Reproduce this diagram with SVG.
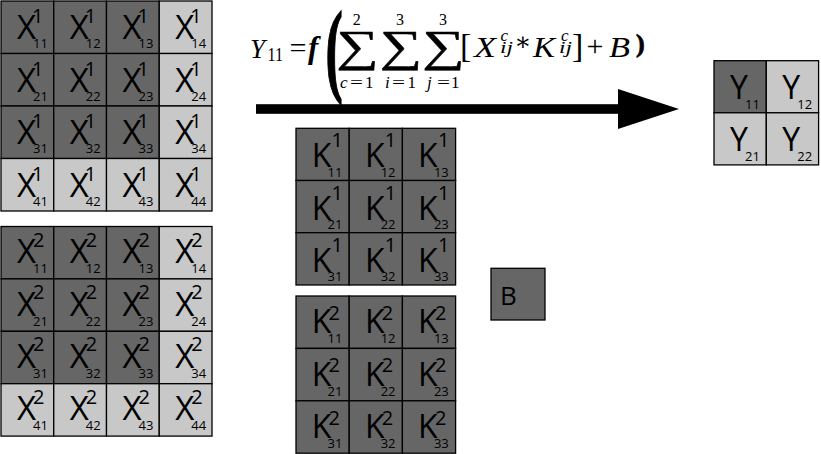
<svg xmlns="http://www.w3.org/2000/svg" width="821" height="454" viewBox="0 0 821 454">
<style>
.bg{fill:#ffffff}
.d{fill:#666666;stroke:#000000;stroke-width:1.3}
.l{fill:#c8c8c8;stroke:#000000;stroke-width:1.3}
.m{font-family:"Open Sans","DejaVu Sans",sans-serif;font-size:33px;fill:#000}
.mk{font-family:"Open Sans","DejaVu Sans",sans-serif;font-size:32px;fill:#000}
.sp{font-family:"Open Sans","DejaVu Sans",sans-serif;font-size:20px;fill:#000}
.sb{font-family:"Open Sans","DejaVu Sans",sans-serif;font-size:13px;fill:#000}
.f{font-family:"Liberation Serif","DejaVu Serif",serif;fill:#000}
.it{font-style:italic}
.scr{font-size:17px}
.lim{font-size:16px}
.sum{font-family:"Liberation Serif","DejaVu Serif",serif;font-size:44px;fill:#000;stroke:#000;stroke-width:0.5}
</style>
<rect class="bg" x="0" y="0" width="821" height="454"/>

<g id="X1">
<g id="X1_11"><rect class="d" x="1" y="1" width="52.75" height="52.5"/><text class="m" x="17" y="39.3">X</text><text class="sp" x="32" y="23">1</text><text class="sb" x="33" y="48.3">11</text></g>
<g id="X1_12"><rect class="d" x="53.75" y="1" width="52.75" height="52.5"/><text class="m" x="69.75" y="39.3">X</text><text class="sp" x="84.75" y="23">1</text><text class="sb" x="85.75" y="48.3">12</text></g>
<g id="X1_13"><rect class="d" x="106.5" y="1" width="52.75" height="52.5"/><text class="m" x="122.5" y="39.3">X</text><text class="sp" x="137.5" y="23">1</text><text class="sb" x="138.5" y="48.3">13</text></g>
<g id="X1_14"><rect class="l" x="159.25" y="1" width="52.75" height="52.5"/><text class="m" x="175.25" y="39.3">X</text><text class="sp" x="190.25" y="23">1</text><text class="sb" x="191.25" y="48.3">14</text></g>
<g id="X1_21"><rect class="d" x="1" y="53.5" width="52.75" height="52.5"/><text class="m" x="17" y="91.8">X</text><text class="sp" x="32" y="75.5">1</text><text class="sb" x="33" y="100.8">21</text></g>
<g id="X1_22"><rect class="d" x="53.75" y="53.5" width="52.75" height="52.5"/><text class="m" x="69.75" y="91.8">X</text><text class="sp" x="84.75" y="75.5">1</text><text class="sb" x="85.75" y="100.8">22</text></g>
<g id="X1_23"><rect class="d" x="106.5" y="53.5" width="52.75" height="52.5"/><text class="m" x="122.5" y="91.8">X</text><text class="sp" x="137.5" y="75.5">1</text><text class="sb" x="138.5" y="100.8">23</text></g>
<g id="X1_24"><rect class="l" x="159.25" y="53.5" width="52.75" height="52.5"/><text class="m" x="175.25" y="91.8">X</text><text class="sp" x="190.25" y="75.5">1</text><text class="sb" x="191.25" y="100.8">24</text></g>
<g id="X1_31"><rect class="d" x="1" y="106" width="52.75" height="52.5"/><text class="m" x="17" y="144.3">X</text><text class="sp" x="32" y="128">1</text><text class="sb" x="33" y="153.3">31</text></g>
<g id="X1_32"><rect class="d" x="53.75" y="106" width="52.75" height="52.5"/><text class="m" x="69.75" y="144.3">X</text><text class="sp" x="84.75" y="128">1</text><text class="sb" x="85.75" y="153.3">32</text></g>
<g id="X1_33"><rect class="d" x="106.5" y="106" width="52.75" height="52.5"/><text class="m" x="122.5" y="144.3">X</text><text class="sp" x="137.5" y="128">1</text><text class="sb" x="138.5" y="153.3">33</text></g>
<g id="X1_34"><rect class="l" x="159.25" y="106" width="52.75" height="52.5"/><text class="m" x="175.25" y="144.3">X</text><text class="sp" x="190.25" y="128">1</text><text class="sb" x="191.25" y="153.3">34</text></g>
<g id="X1_41"><rect class="l" x="1" y="158.5" width="52.75" height="52.5"/><text class="m" x="17" y="196.8">X</text><text class="sp" x="32" y="180.5">1</text><text class="sb" x="33" y="205.8">41</text></g>
<g id="X1_42"><rect class="l" x="53.75" y="158.5" width="52.75" height="52.5"/><text class="m" x="69.75" y="196.8">X</text><text class="sp" x="84.75" y="180.5">1</text><text class="sb" x="85.75" y="205.8">42</text></g>
<g id="X1_43"><rect class="l" x="106.5" y="158.5" width="52.75" height="52.5"/><text class="m" x="122.5" y="196.8">X</text><text class="sp" x="137.5" y="180.5">1</text><text class="sb" x="138.5" y="205.8">43</text></g>
<g id="X1_44"><rect class="l" x="159.25" y="158.5" width="52.75" height="52.5"/><text class="m" x="175.25" y="196.8">X</text><text class="sp" x="190.25" y="180.5">1</text><text class="sb" x="191.25" y="205.8">44</text></g>
</g>

<g id="X2">
<g id="X2_11"><rect class="d" x="1" y="226.5" width="52.75" height="52.4"/><text class="m" x="17" y="263.1">X</text><text class="sp" x="33" y="246.5">2</text><text class="sb" x="33" y="273.1">11</text></g>
<g id="X2_12"><rect class="d" x="53.75" y="226.5" width="52.75" height="52.4"/><text class="m" x="69.75" y="263.1">X</text><text class="sp" x="85.75" y="246.5">2</text><text class="sb" x="85.75" y="273.1">12</text></g>
<g id="X2_13"><rect class="d" x="106.5" y="226.5" width="52.75" height="52.4"/><text class="m" x="122.5" y="263.1">X</text><text class="sp" x="138.5" y="246.5">2</text><text class="sb" x="138.5" y="273.1">13</text></g>
<g id="X2_14"><rect class="l" x="159.25" y="226.5" width="52.75" height="52.4"/><text class="m" x="175.25" y="263.1">X</text><text class="sp" x="191.25" y="246.5">2</text><text class="sb" x="191.25" y="273.1">14</text></g>
<g id="X2_21"><rect class="d" x="1" y="278.9" width="52.75" height="52.4"/><text class="m" x="17" y="315.5">X</text><text class="sp" x="33" y="298.9">2</text><text class="sb" x="33" y="325.5">21</text></g>
<g id="X2_22"><rect class="d" x="53.75" y="278.9" width="52.75" height="52.4"/><text class="m" x="69.75" y="315.5">X</text><text class="sp" x="85.75" y="298.9">2</text><text class="sb" x="85.75" y="325.5">22</text></g>
<g id="X2_23"><rect class="d" x="106.5" y="278.9" width="52.75" height="52.4"/><text class="m" x="122.5" y="315.5">X</text><text class="sp" x="138.5" y="298.9">2</text><text class="sb" x="138.5" y="325.5">23</text></g>
<g id="X2_24"><rect class="l" x="159.25" y="278.9" width="52.75" height="52.4"/><text class="m" x="175.25" y="315.5">X</text><text class="sp" x="191.25" y="298.9">2</text><text class="sb" x="191.25" y="325.5">24</text></g>
<g id="X2_31"><rect class="d" x="1" y="331.3" width="52.75" height="52.4"/><text class="m" x="17" y="367.9">X</text><text class="sp" x="33" y="351.3">2</text><text class="sb" x="33" y="377.9">31</text></g>
<g id="X2_32"><rect class="d" x="53.75" y="331.3" width="52.75" height="52.4"/><text class="m" x="69.75" y="367.9">X</text><text class="sp" x="85.75" y="351.3">2</text><text class="sb" x="85.75" y="377.9">32</text></g>
<g id="X2_33"><rect class="d" x="106.5" y="331.3" width="52.75" height="52.4"/><text class="m" x="122.5" y="367.9">X</text><text class="sp" x="138.5" y="351.3">2</text><text class="sb" x="138.5" y="377.9">33</text></g>
<g id="X2_34"><rect class="l" x="159.25" y="331.3" width="52.75" height="52.4"/><text class="m" x="175.25" y="367.9">X</text><text class="sp" x="191.25" y="351.3">2</text><text class="sb" x="191.25" y="377.9">34</text></g>
<g id="X2_41"><rect class="l" x="1" y="383.7" width="52.75" height="52.4"/><text class="m" x="17" y="420.3">X</text><text class="sp" x="33" y="403.7">2</text><text class="sb" x="33" y="430.3">41</text></g>
<g id="X2_42"><rect class="l" x="53.75" y="383.7" width="52.75" height="52.4"/><text class="m" x="69.75" y="420.3">X</text><text class="sp" x="85.75" y="403.7">2</text><text class="sb" x="85.75" y="430.3">42</text></g>
<g id="X2_43"><rect class="l" x="106.5" y="383.7" width="52.75" height="52.4"/><text class="m" x="122.5" y="420.3">X</text><text class="sp" x="138.5" y="403.7">2</text><text class="sb" x="138.5" y="430.3">43</text></g>
<g id="X2_44"><rect class="l" x="159.25" y="383.7" width="52.75" height="52.4"/><text class="m" x="175.25" y="420.3">X</text><text class="sp" x="191.25" y="403.7">2</text><text class="sb" x="191.25" y="430.3">44</text></g>
</g>

<g id="K1">
<g id="K1_11"><rect class="d" x="296" y="128.3" width="53.2" height="52.2"/><text class="mk" x="311.7" y="167.3">K</text><text class="sp" x="331.5" y="147.3">1</text><text class="sb" x="327.5" y="176.7">11</text></g>
<g id="K1_12"><rect class="d" x="349.2" y="128.3" width="53.2" height="52.2"/><text class="mk" x="364.9" y="167.3">K</text><text class="sp" x="384.7" y="147.3">1</text><text class="sb" x="380.7" y="176.7">12</text></g>
<g id="K1_13"><rect class="d" x="402.4" y="128.3" width="53.2" height="52.2"/><text class="mk" x="418.1" y="167.3">K</text><text class="sp" x="437.9" y="147.3">1</text><text class="sb" x="433.9" y="176.7">13</text></g>
<g id="K1_21"><rect class="d" x="296" y="180.5" width="53.2" height="52.2"/><text class="mk" x="311.7" y="219.5">K</text><text class="sp" x="331.5" y="199.5">1</text><text class="sb" x="327.5" y="228.9">21</text></g>
<g id="K1_22"><rect class="d" x="349.2" y="180.5" width="53.2" height="52.2"/><text class="mk" x="364.9" y="219.5">K</text><text class="sp" x="384.7" y="199.5">1</text><text class="sb" x="380.7" y="228.9">22</text></g>
<g id="K1_23"><rect class="d" x="402.4" y="180.5" width="53.2" height="52.2"/><text class="mk" x="418.1" y="219.5">K</text><text class="sp" x="437.9" y="199.5">1</text><text class="sb" x="433.9" y="228.9">23</text></g>
<g id="K1_31"><rect class="d" x="296" y="232.7" width="53.2" height="52.3"/><text class="mk" x="311.7" y="271.7">K</text><text class="sp" x="331.5" y="251.7">1</text><text class="sb" x="327.5" y="281.1">31</text></g>
<g id="K1_32"><rect class="d" x="349.2" y="232.7" width="53.2" height="52.3"/><text class="mk" x="364.9" y="271.7">K</text><text class="sp" x="384.7" y="251.7">1</text><text class="sb" x="380.7" y="281.1">32</text></g>
<g id="K1_33"><rect class="d" x="402.4" y="232.7" width="53.2" height="52.3"/><text class="mk" x="418.1" y="271.7">K</text><text class="sp" x="437.9" y="251.7">1</text><text class="sb" x="433.9" y="281.1">33</text></g>
</g>

<g id="K2">
<g id="K2_11"><rect class="d" x="296" y="296" width="53.2" height="52.4"/><text class="mk" x="311.7" y="333.3">K</text><text class="sp" x="328.5" y="320">2</text><text class="sb" x="327.5" y="343.3">11</text></g>
<g id="K2_12"><rect class="d" x="349.2" y="296" width="53.2" height="52.4"/><text class="mk" x="364.9" y="333.3">K</text><text class="sp" x="381.7" y="320">2</text><text class="sb" x="380.7" y="343.3">12</text></g>
<g id="K2_13"><rect class="d" x="402.4" y="296" width="53.2" height="52.4"/><text class="mk" x="418.1" y="333.3">K</text><text class="sp" x="434.9" y="320">2</text><text class="sb" x="433.9" y="343.3">13</text></g>
<g id="K2_21"><rect class="d" x="296" y="348.4" width="53.2" height="52.4"/><text class="mk" x="311.7" y="385.7">K</text><text class="sp" x="328.5" y="372.4">2</text><text class="sb" x="327.5" y="395.7">21</text></g>
<g id="K2_22"><rect class="d" x="349.2" y="348.4" width="53.2" height="52.4"/><text class="mk" x="364.9" y="385.7">K</text><text class="sp" x="381.7" y="372.4">2</text><text class="sb" x="380.7" y="395.7">22</text></g>
<g id="K2_23"><rect class="d" x="402.4" y="348.4" width="53.2" height="52.4"/><text class="mk" x="418.1" y="385.7">K</text><text class="sp" x="434.9" y="372.4">2</text><text class="sb" x="433.9" y="395.7">23</text></g>
<g id="K2_31"><rect class="d" x="296" y="400.8" width="53.2" height="52.4"/><text class="mk" x="311.7" y="438.1">K</text><text class="sp" x="328.5" y="424.8">2</text><text class="sb" x="327.5" y="448.1">31</text></g>
<g id="K2_32"><rect class="d" x="349.2" y="400.8" width="53.2" height="52.4"/><text class="mk" x="364.9" y="438.1">K</text><text class="sp" x="381.7" y="424.8">2</text><text class="sb" x="380.7" y="448.1">32</text></g>
<g id="K2_33"><rect class="d" x="402.4" y="400.8" width="53.2" height="52.4"/><text class="mk" x="418.1" y="438.1">K</text><text class="sp" x="434.9" y="424.8">2</text><text class="sb" x="433.9" y="448.1">33</text></g>
</g>

<g id="B">
<rect class="d" x="491" y="268.3" width="54" height="51.7"/>
<text class="m" x="500" y="305" style="font-size:26px">B</text>
</g>

<g id="Y">
<g id="Y_11"><rect class="d" x="714" y="60.7" width="52.3" height="52.1"/><text class="mk" x="730" y="99">Y</text><text class="sb" x="745" y="109.3">11</text></g>
<g id="Y_12"><rect class="l" x="766.3" y="60.7" width="52.3" height="52.1"/><text class="mk" x="782.3" y="99">Y</text><text class="sb" x="797.3" y="109.3">12</text></g>
<g id="Y_21"><rect class="l" x="714" y="112.8" width="52.3" height="52.1"/><text class="mk" x="730" y="151">Y</text><text class="sb" x="745" y="161.3">21</text></g>
<g id="Y_22"><rect class="l" x="766.3" y="112.8" width="52.3" height="52.1"/><text class="mk" x="782.3" y="151">Y</text><text class="sb" x="797.3" y="161.3">22</text></g>
</g>

<g id="formula">
<text class="f it" x="250" y="58" font-size="27">Y</text>
<text class="f" x="267.5" y="60.5" font-size="18" textLength="15.5" lengthAdjust="spacingAndGlyphs">11</text>
<text class="f" x="289.5" y="57" font-size="28" textLength="17" lengthAdjust="spacingAndGlyphs">=</text>
<text class="f it" x="308" y="58" font-size="31" font-weight="bold">f</text>
<text class="f" transform="translate(325.5,83) scale(0.5,1)" font-size="104" font-weight="bold" stroke="#000" stroke-width="1.5">(</text>
<text class="sum" transform="translate(357.5,61) scale(1.35,1)" text-anchor="middle">∑</text>
<text class="sum" transform="translate(401,61) scale(1.35,1)" text-anchor="middle">∑</text>
<text class="sum" transform="translate(443.5,61) scale(1.35,1)" text-anchor="middle">∑</text>
<text class="f lim" x="356.7" y="24.5" text-anchor="middle">2</text>
<text class="f lim" x="400" y="24.5" text-anchor="middle">3</text>
<text class="f lim" x="443" y="24.5" text-anchor="middle">3</text>
<text class="f it" x="340" y="88" font-size="17">c</text>
<text class="f" x="350" y="88" font-size="17" textLength="13" lengthAdjust="spacingAndGlyphs">=</text>
<text class="f" x="365" y="88" font-size="17">1</text>
<text class="f it" x="385" y="88" font-size="17">i</text>
<text class="f" x="392" y="88" font-size="17" textLength="13" lengthAdjust="spacingAndGlyphs">=</text>
<text class="f" x="407.5" y="88" font-size="17">1</text>
<text class="f it" x="427" y="88" font-size="17">j</text>
<text class="f" x="437" y="88" font-size="17" textLength="13" lengthAdjust="spacingAndGlyphs">=</text>
<text class="f" x="451" y="88" font-size="17">1</text>
<text class="f" x="460" y="56.5" font-size="34">[</text>
<text class="f it" x="474" y="56.5" font-size="30" textLength="22" lengthAdjust="spacingAndGlyphs">X</text>
<text class="f it scr" x="500.5" y="40.7">c</text>
<text class="f it scr" x="500" y="53" textLength="13" lengthAdjust="spacingAndGlyphs">ij</text>
<text class="f" x="523" y="50" font-size="25" text-anchor="middle">∗</text>
<text class="f it" x="533" y="56.5" font-size="30" textLength="22" lengthAdjust="spacingAndGlyphs">K</text>
<text class="f it scr" x="561" y="40.7">c</text>
<text class="f it scr" x="559" y="53" textLength="13" lengthAdjust="spacingAndGlyphs">ij</text>
<text class="f" x="572" y="56.5" font-size="34">]</text>
<text class="f" x="595" y="55.5" font-size="30" text-anchor="middle">+</text>
<text class="f it" x="609" y="56.5" font-size="30" textLength="21" lengthAdjust="spacingAndGlyphs">B</text>
<text class="f" x="636" y="52" font-size="26" font-weight="bold" stroke="#000" stroke-width="0.8">)</text>
</g>

<g id="connectors">
<rect x="256" y="104.2" width="364" height="9.6" fill="#000"/>
<polygon points="618,89 679,109 618,129" fill="#000"/>
</g>
</svg>
